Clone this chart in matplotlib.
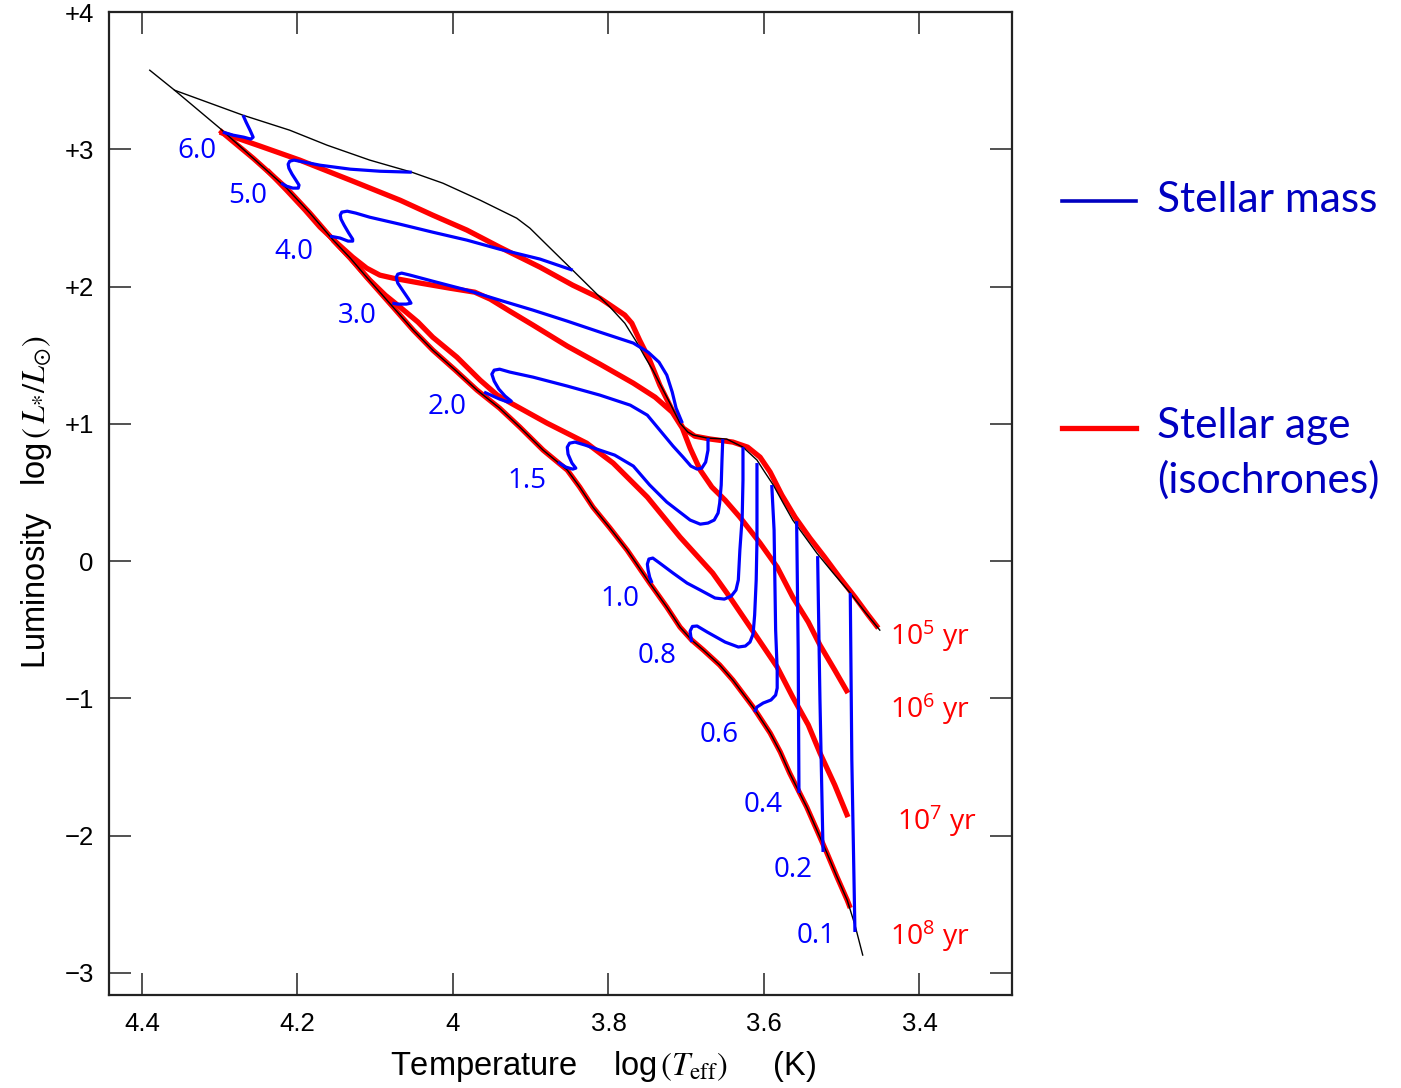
import matplotlib
matplotlib.use("Agg")
import matplotlib.pyplot as plt
from matplotlib.lines import Line2D

plt.rcParams['mathtext.fontset'] = 'custom'
plt.rcParams['mathtext.rm'] = 'Open Sans'
plt.rcParams['mathtext.it'] = 'Open Sans:italic'

# ---------------- data (log Teff, log L/Lsun) ----------------
birthline_T = [4.390, 4.358, 4.270, 4.210, 4.162, 4.107, 4.053, 4.013, 3.965, 3.918, 3.901,
               3.875, 3.846, 3.824, 3.798, 3.779, 3.763, 3.753, 3.743, 3.731, 3.721, 3.708,
               3.698, 3.691, 3.673, 3.648, 3.627, 3.609, 3.599, 3.588, 3.576, 3.563, 3.547,
               3.532, 3.511, 3.489, 3.470, 3.451]
birthline_L = [3.576, 3.430, 3.248, 3.139, 3.030, 2.921, 2.833, 2.753, 2.629, 2.498, 2.425,
               2.280, 2.119, 1.996, 1.850, 1.733, 1.588, 1.486, 1.391, 1.260, 1.151, 1.005,
               0.940, 0.918, 0.896, 0.889, 0.830, 0.736, 0.648, 0.554, 0.430, 0.299, 0.175,
               0.058, -0.087, -0.233, -0.371, -0.503]

zams_T = [4.358, 4.300, 4.257, 4.214, 4.184, 4.154, 4.132, 4.111, 4.077, 4.051, 4.026,
          3.997, 3.969, 3.940, 3.914, 3.884, 3.853, 3.837, 3.820, 3.798, 3.776, 3.747,
          3.725, 3.708, 3.693, 3.678, 3.657, 3.640, 3.614, 3.592, 3.579, 3.567, 3.545,
          3.532, 3.519, 3.506, 3.493, 3.483, 3.473]
zams_L = [3.430, 3.154, 2.935, 2.717, 2.535, 2.338, 2.207, 2.068, 1.850, 1.682, 1.537,
          1.391, 1.245, 1.114, 0.976, 0.808, 0.663, 0.539, 0.393, 0.240, 0.080, -0.160,
          -0.335, -0.481, -0.575, -0.648, -0.757, -0.867, -1.063, -1.253, -1.391, -1.544, -1.792,
          -1.959, -2.127, -2.302, -2.469, -2.651, -2.870]

iso5_T = [4.300, 4.248, 4.197, 4.132, 4.068, 4.026, 3.982, 3.940, 3.888, 3.846, 3.811,
          3.794, 3.779, 3.770, 3.760, 3.747, 3.734, 3.718, 3.704, 3.689, 3.669, 3.640,
          3.621, 3.605, 3.592, 3.577, 3.560, 3.541, 3.522, 3.502, 3.483, 3.466, 3.453]
iso5_L = [3.125, 3.023, 2.921, 2.775, 2.629, 2.520, 2.411, 2.287, 2.141, 2.010, 1.915,
          1.850, 1.792, 1.733, 1.610, 1.464, 1.282, 1.100, 0.969, 0.910, 0.889, 0.867,
          0.830, 0.757, 0.648, 0.481, 0.320, 0.168, 0.029, -0.124, -0.262, -0.393, -0.488]

iso6_T = [4.239, 4.214, 4.190, 4.171, 4.149, 4.129, 4.111, 4.094, 4.077, 4.042, 4.004,
          3.972, 3.952, 3.927, 3.897, 3.853, 3.811, 3.768, 3.740, 3.718, 3.705, 3.695,
          3.682, 3.667, 3.650, 3.631, 3.605, 3.583, 3.563, 3.543, 3.528, 3.509, 3.492]
iso6_L = [2.848, 2.702, 2.556, 2.433, 2.316, 2.214, 2.134, 2.083, 2.061, 2.025, 1.988,
          1.959, 1.908, 1.821, 1.719, 1.566, 1.435, 1.296, 1.194, 1.085, 0.969, 0.823,
          0.663, 0.539, 0.444, 0.320, 0.131, -0.044, -0.262, -0.444, -0.612, -0.794, -0.961]

iso7_T = [4.154, 4.132, 4.107, 4.087, 4.068, 4.045, 4.026, 3.995, 3.965, 3.943, 3.923,
          3.879, 3.828, 3.794, 3.750, 3.708, 3.666, 3.644, 3.609, 3.583, 3.563, 3.543,
          3.528, 3.509, 3.492]
iso7_L = [2.338, 2.207, 2.047, 1.937, 1.850, 1.741, 1.631, 1.486, 1.318, 1.209, 1.143,
          1.005, 0.859, 0.714, 0.466, 0.175, -0.087, -0.262, -0.554, -0.772, -0.991, -1.194,
          -1.398, -1.631, -1.865]

iso8_T = [4.300, 4.257, 4.214, 4.184, 4.154, 4.132, 4.111, 4.077, 4.051, 4.026, 3.997,
          3.969, 3.940, 3.914, 3.884, 3.853, 3.837, 3.820, 3.798, 3.776, 3.747, 3.725,
          3.708, 3.693, 3.678, 3.657, 3.640, 3.614, 3.592, 3.579, 3.567, 3.545, 3.532,
          3.519, 3.506, 3.493, 3.489]
iso8_L = [3.138, 2.935, 2.717, 2.535, 2.338, 2.207, 2.068, 1.850, 1.682, 1.537, 1.391,
          1.245, 1.114, 0.976, 0.808, 0.663, 0.539, 0.393, 0.240, 0.080, -0.160, -0.335,
          -0.481, -0.575, -0.648, -0.757, -0.867, -1.063, -1.253, -1.391, -1.544, -1.792, -1.959,
          -2.127, -2.302, -2.469, -2.527]

m60_T = [4.270, 4.266, 4.261, 4.257, 4.260, 4.269, 4.283, 4.296]
m60_L = [3.248, 3.197, 3.139, 3.088, 3.074, 3.088, 3.103, 3.125]

m50_T = [4.053, 4.094, 4.132, 4.171, 4.197, 4.2045, 4.210, 4.212, 4.211, 4.207, 4.202,
         4.198, 4.199, 4.206, 4.214, 4.221]
m50_L = [2.833, 2.840, 2.855, 2.884, 2.913, 2.921, 2.913, 2.891, 2.862, 2.819, 2.775,
         2.739, 2.717, 2.717, 2.731, 2.753]

m40_T = [3.846, 3.888, 3.940, 3.982, 4.026, 4.068, 4.107, 4.125, 4.136, 4.143, 4.145,
         4.144, 4.140, 4.134, 4.129, 4.129, 4.135, 4.145, 4.158]
m40_L = [2.119, 2.200, 2.272, 2.338, 2.396, 2.454, 2.505, 2.535, 2.549, 2.542, 2.520,
         2.491, 2.447, 2.389, 2.345, 2.331, 2.331, 2.353, 2.367]

m30_T = [3.705, 3.713, 3.718, 3.725, 3.735, 3.749, 3.768, 3.811, 3.853, 3.897, 3.940,
         3.982, 4.026, 4.055, 4.066, 4.071, 4.073, 4.071, 4.064, 4.057, 4.054, 4.060,
         4.071, 4.078]
m30_L = [1.005, 1.114, 1.231, 1.355, 1.449, 1.522, 1.588, 1.668, 1.748, 1.828, 1.901,
         1.974, 2.039, 2.083, 2.098, 2.090, 2.068, 2.025, 1.966, 1.908, 1.879, 1.872,
         1.872, 1.879]

m20_T = [3.672, 3.672, 3.675, 3.680, 3.686, 3.694, 3.704, 3.717, 3.734, 3.750, 3.772,
         3.811, 3.853, 3.897, 3.927, 3.940, 3.947, 3.950, 3.947, 3.941, 3.933, 3.925,
         3.929, 3.940, 3.960]
m20_L = [0.896, 0.808, 0.721, 0.677, 0.670, 0.692, 0.757, 0.838, 0.954, 1.063, 1.136,
         1.209, 1.275, 1.340, 1.377, 1.398, 1.391, 1.362, 1.311, 1.253, 1.202, 1.165,
         1.158, 1.180, 1.231]

m15_T = [3.653, 3.654, 3.655, 3.657, 3.659, 3.664, 3.672, 3.682, 3.695, 3.725, 3.747,
         3.768, 3.792, 3.811, 3.830, 3.843, 3.850, 3.853, 3.852, 3.847, 3.842, 3.846,
         3.855, 3.865]
m15_L = [0.889, 0.736, 0.554, 0.422, 0.350, 0.299, 0.277, 0.269, 0.299, 0.430, 0.554,
         0.692, 0.772, 0.808, 0.845, 0.867, 0.859, 0.830, 0.779, 0.714, 0.677, 0.670,
         0.685, 0.721]

m10_T = [3.627, 3.627, 3.628, 3.631, 3.633, 3.636, 3.642, 3.651, 3.663, 3.682, 3.699,
         3.717, 3.734, 3.743, 3.748, 3.750, 3.749, 3.747, 3.744]
m10_L = [0.830, 0.590, 0.320, 0.080, -0.138, -0.211, -0.255, -0.277, -0.269, -0.211, -0.160,
         -0.087, -0.015, 0.022, 0.015, -0.022, -0.066, -0.117, -0.160]

m08_T = [3.609, 3.609, 3.609, 3.610, 3.612, 3.614, 3.618, 3.624, 3.633, 3.650, 3.673,
         3.686, 3.692, 3.695, 3.694, 3.693]
m08_L = [0.714, 0.444, 0.153, -0.138, -0.393, -0.531, -0.590, -0.619, -0.626, -0.590, -0.517,
         -0.473, -0.476, -0.510, -0.554, -0.590]

m06_T = [3.590, 3.587, 3.586, 3.585, 3.583, 3.583, 3.585, 3.591, 3.601, 3.609, 3.612]
m06_L = [0.554, 0.226, -0.138, -0.503, -0.794, -0.925, -0.976, -1.012, -1.034, -1.063, -1.100]

m04_T = [3.558, 3.556, 3.555]
m04_L = [0.291, -0.648, -1.690]

m02_T = [3.531, 3.528, 3.524]
m02_L = [0.036, -1.012, -2.119]

m01_T = [3.489, 3.487, 3.483]
m01_L = [-0.233, -1.449, -2.702]

mass_labels = ['6.0', '5.0', '4.0', '3.0', '2.0', '1.5', '1.0', '0.8', '0.6', '0.4', '0.2', '0.1']
age_labels = ['$\\mathregular{10^{5}}$ yr', '$\\mathregular{10^{6}}$ yr',
              '$\\mathregular{10^{7}}$ yr', '$\\mathregular{10^{8}}$ yr']
x_ticks = [4.4, 4.2, 4.0, 3.8, 3.6, 3.4]
x_ticklabels = ['4.4', '4.2', '4', '3.8', '3.6', '3.4']
y_ticks = [4, 3, 2, 1, 0, -1, -2, -3]
y_ticklabels = ['+4', '+3', '+2', '+1', '0', '\u22121', '\u22122', '\u22123']
legend_lines = ['Stellar mass', 'Stellar age', '(isochrones)']

# annotation anchor positions (kept separate from data)
mass_label_pos = [(4.329, 2.935), (4.264, 2.607), (4.204, 2.200), (4.123, 1.733),
                  (4.008, 1.071), (3.905, 0.532), (3.785, -0.328), (3.738, -0.743),
                  (3.657, -1.318), (3.601, -1.828), (3.563, -2.302), (3.533, -2.782)]
age_label_pos = [(3.438, -0.612), (3.438, -1.143), (3.429, -1.959), (3.438, -2.797)]

# ---------------- figure ----------------
W, H = 1401, 1088
fig = plt.figure(figsize=(W / 100, H / 100), dpi=100)
ax = fig.add_axes([109 / W, 1 - 995 / H, (1012 - 109) / W, (995 - 12) / H])

RED = '#ff0000'
BLUE = '#0000ff'

reds = [(iso8_T, iso8_L), (iso7_T, iso7_L), (iso6_T, iso6_L), (iso5_T, iso5_L)]
for t, l in reds:
    ax.plot(t, l, color=RED, lw=3.8, solid_joinstyle='round', solid_capstyle='butt', zorder=2)

for t, l in [(birthline_T, birthline_L), (zams_T, zams_L)]:
    ax.plot(t, l, color='black', lw=1.0, solid_joinstyle='round', zorder=3)

blues = [(m60_T, m60_L), (m50_T, m50_L), (m40_T, m40_L), (m30_T, m30_L), (m20_T, m20_L),
         (m15_T, m15_L), (m10_T, m10_L), (m08_T, m08_L), (m06_T, m06_L), (m04_T, m04_L),
         (m02_T, m02_L), (m01_T, m01_L)]
for t, l in blues:
    ax.plot(t, l, color=BLUE, lw=2.3, solid_joinstyle='round', solid_capstyle='butt', zorder=4)

for lab, (t, l) in zip(mass_labels, mass_label_pos):
    ax.text(t, l, lab, color=BLUE, fontsize=20, family='Open Sans',
            ha='center', va='baseline', zorder=5)

for lab, (t, l) in zip(age_labels, age_label_pos):
    ax.text(t, l, lab, color=RED, fontsize=20.5, family='Open Sans',
            ha='left', va='baseline', zorder=5, clip_on=False)

ax.set_xlim(4.4424, 3.281)
ax.set_ylim(-3.161, 4.0)
ax.set_xticks(x_ticks)
ax.set_xticklabels(x_ticklabels, family='Liberation Sans', fontsize=18.5)
ax.set_yticks(y_ticks)
ax.set_yticklabels(y_ticklabels, family='Liberation Sans', fontsize=18.5)
ax.tick_params(axis='both', direction='in', length=16, width=1.1, color='#222222',
               top=True, right=True)
ax.tick_params(axis='x', pad=12)
ax.tick_params(axis='y', pad=11)
for s in ax.spines.values():
    s.set_linewidth(1.6)
    s.set_color('#222222')

ax.set_xlabel(r'Temperature    log$\,(T_{\rm eff})$     (K)', family='Liberation Sans',
              fontsize=23.5, math_fontfamily='stix')
ax.xaxis.set_label_coords((603 - 109) / 903, -(1049 - 995) / 983)
ax.set_ylabel(r'Luminosity   log$\,(\,L_{*}/L_{\odot})$', family='Liberation Sans',
              fontsize=23.5, math_fontfamily='stix')
ax.yaxis.set_label_coords(-(109 - 54) / 903, (995 - 502) / 983)

# ---------------- legend (drawn manually) ----------------
LEG_BLUE = '#0000c0'
fig.add_artist(Line2D([1062 / W, 1136 / W], [1 - 201 / H, 1 - 201 / H],
                      color=LEG_BLUE, lw=2.6, transform=fig.transFigure))
fig.add_artist(Line2D([1062 / W, 1136 / W], [1 - 428 / H, 1 - 428 / H],
                      color=RED, lw=3.8, transform=fig.transFigure))
for txt, base_y in zip(legend_lines, [212, 438, 493]):
    fig.text(1157 / W, 1 - base_y / H, txt, color=LEG_BLUE, fontsize=30.5,
             family='Lato', ha='left', va='baseline')

fig.savefig('out.png', dpi=100)
